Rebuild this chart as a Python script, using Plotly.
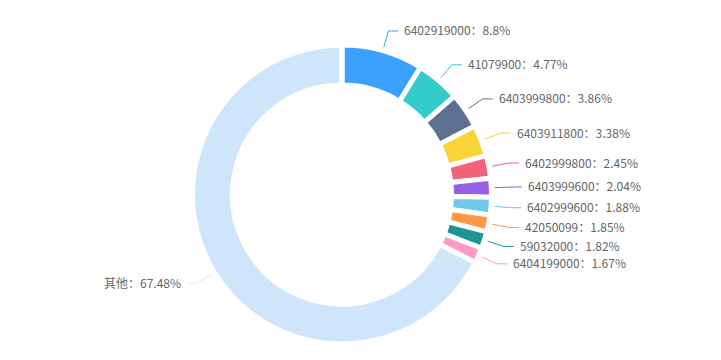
import math
import plotly.graph_objects as go

labels = ["6402919000", "41079900", "6403999800", "6403911800", "6402999800",
          "6403999600", "6402999600", "42050099", "59032000", "6404199000", "其他"]
values = [8.8, 4.77, 3.86, 3.38, 2.45, 2.04, 1.88, 1.85, 1.82, 1.67, 67.48]
colors = ["#3AA1FF", "#36CBCB", "#5D7092", "#FAD337", "#F2637B", "#975FE4",
          "#6DC8EC", "#FF9845", "#1E9493", "#FF99C3", "#CEE5FC"]
line_colors = colors[:-1] + ["#DCEBFA"]

W, H = 721, 360
CX, CY = 342, 194.5
R_VIS = 147
R_IN = 112
GAP = 5
R_PIE = R_VIS + GAP / 2
HOLE = (R_IN - GAP / 2) / R_PIE

fig = go.Figure()
fig.add_trace(go.Pie(
    labels=labels, values=values, sort=False, direction="clockwise",
    rotation=0, hole=HOLE, textinfo="none", hoverinfo="skip",
    marker=dict(colors=colors, line=dict(color="#ffffff", width=GAP)),
    domain=dict(x=[(CX - R_PIE) / W, (CX + R_PIE) / W],
                y=[1 - (CY + R_PIE) / H, 1 - (CY - R_PIE) / H]),
    showlegend=False,
))

total = sum(values)
cum = 0.0
annotations = []
for lab, v, lc in zip(labels, values, line_colors):
    mid = (cum + v / 2) / total * 2 * math.pi
    cum += v
    s, c = math.sin(mid), math.cos(mid)
    r0, r1 = R_VIS + 6, R_VIS + 23
    x0, y0 = CX + r0 * s, CY - r0 * c
    x1, y1 = CX + r1 * s, CY - r1 * c
    right = s >= 0
    x2 = x1 + (10 if right else -10)
    fig.add_trace(go.Scatter(
        x=[x0, x1, x2], y=[y0, y1, y1], mode="lines",
        line=dict(color=lc, width=1), hoverinfo="skip", showlegend=False))
    annotations.append(dict(
        x=x2, y=y1, xref="x", yref="y", text=f"{lab}：{v:g}%", showarrow=False,
        xanchor="left" if right else "right", yanchor="middle",
        xshift=4 if right else -4, yshift=1,
        font=dict(family="Microsoft YaHei, Noto Sans CJK SC, sans-serif", size=12, color="#666666")))

fig.update_layout(
    width=W, height=H, margin=dict(l=0, r=0, t=0, b=0),
    paper_bgcolor="#ffffff", plot_bgcolor="rgba(0,0,0,0)",
    xaxis=dict(range=[0, W], visible=False, fixedrange=True),
    yaxis=dict(range=[H, 0], visible=False, fixedrange=True),
    annotations=annotations, hovermode=False,
)
fig.write_html("out.html", config={"displayModeBar": False},
               post_script="document.body.style.margin='0';document.body.style.overflow='hidden';")
